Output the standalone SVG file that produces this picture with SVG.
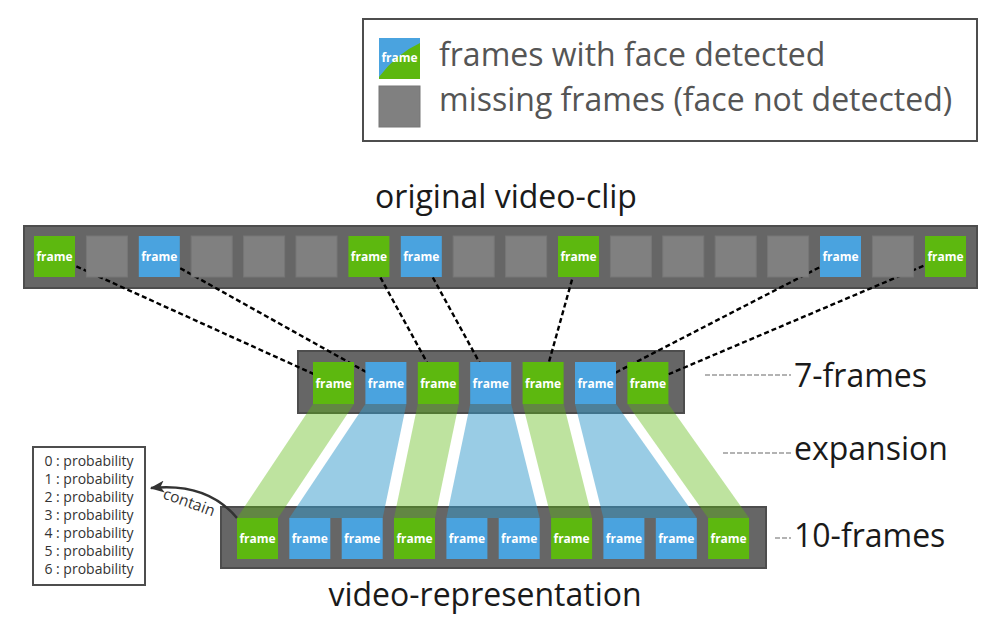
<svg xmlns="http://www.w3.org/2000/svg" width="999" height="624" viewBox="0 0 999 624">
<defs>
<style>
.strip{fill:#666666;stroke:#4d4d4d;stroke-width:2}
.g{fill:#5db80f}
.b{fill:#4aa3df}
.m{fill:#808080;stroke:#777;stroke-width:1}
.ft{font-family:"Open Sans","DejaVu Sans",sans-serif;font-weight:bold;font-size:12px;fill:#ffffff;text-anchor:middle}
.lbl{font-family:"Open Sans","DejaVu Sans",sans-serif;font-size:32px;fill:#1a1a1a}
.leg{font-family:"Open Sans","DejaVu Sans",sans-serif;font-size:32px;fill:#555555}
.prob{font-family:"Open Sans","DejaVu Sans",sans-serif;font-size:14px;fill:#333333;text-anchor:middle}
.dl{stroke:#000;stroke-width:2.4;stroke-dasharray:5 3;fill:none}
.gl{stroke:#b3b3b3;stroke-width:2;stroke-dasharray:5 2;fill:none}
.bg{fill:#5db80f;opacity:0.4}
.bb{fill:#3399cc;opacity:0.5}
</style>
<marker id="ah2" viewBox="0 0 12 10" refX="11" refY="5" markerWidth="15" markerHeight="12" orient="auto" markerUnits="userSpaceOnUse">
<path d="M0,0 L12,5 L0,10 L3,5 Z" fill="#333"/>
</marker>
</defs>
<rect width="999" height="624" fill="#ffffff"/>

<g id="legend">
<rect x="363" y="19" width="614" height="122" fill="#fff" stroke="#4d4d4d" stroke-width="2"/>
<rect x="379" y="38" width="41" height="41" class="g"/>
<path d="M379,38 H420 V43 Q396,54 379,77 Z" class="b"/>
<text x="399.5" y="62" class="ft">frame</text>
<rect x="379" y="86" width="41" height="41" class="m"/>
<text x="439" y="66" class="leg">frames with face detected</text>
<text x="439" y="111" class="leg">missing frames (face not detected)</text>
</g>

<g id="labels">
<text x="506" y="208" class="lbl" text-anchor="middle">original video-clip</text>
<text x="794" y="387" class="lbl">7-frames</text>
<text x="794" y="460" class="lbl">expansion</text>
<text x="794" y="547" class="lbl">10-frames</text>
<text x="485" y="606" class="lbl" text-anchor="middle">video-representation</text>
</g>

<g id="strips">
<rect id="original-clip" x="24" y="226" width="953" height="62" class="strip"/>
<rect id="seven-frames" x="298" y="351" width="386" height="62" class="strip"/>
<rect id="ten-frames" x="221" y="507" width="545" height="61" class="strip"/>
</g>

<g id="connectors">
<line x1="54.5" y1="256.5" x2="333.5" y2="383" class="dl"/>
<line x1="159.3" y1="256.5" x2="385.9" y2="383" class="dl"/>
<line x1="368.9" y1="256.5" x2="438.3" y2="383" class="dl"/>
<line x1="421.3" y1="256.5" x2="490.7" y2="383" class="dl"/>
<line x1="578.5" y1="256.5" x2="543.1" y2="383" class="dl"/>
<line x1="840.5" y1="256.5" x2="595.5" y2="383" class="dl"/>
<line x1="945.5" y1="256.5" x2="647.9" y2="383" class="dl"/>
<line x1="705" y1="375" x2="791" y2="375" class="gl"/>
<line x1="723" y1="453" x2="791" y2="453" class="gl"/>
<line x1="775" y1="538" x2="791" y2="538" class="gl"/>
<path d="M237,518 Q207,482 151,488" fill="none" stroke="#333" stroke-width="2.5" marker-end="url(#ah2)"/>
<text x="0" y="0" transform="translate(162,498) rotate(20)" font-family="'Open Sans','DejaVu Sans',sans-serif" font-size="15.5" fill="#333">contain</text>
</g>

<g id="expansion-bands">
<polygon points="313,404 354,404 278,518 237,518" class="bg"/>
<polygon points="365.4,404 406.4,404 382.7,518 289.3,518" class="bb"/>
<polygon points="417.8,404 458.8,404 435,518 394,518" class="bg"/>
<polygon points="470.2,404 511.2,404 539.7,518 446.4,518" class="bb"/>
<polygon points="522.6,404 563.6,404 592.1,518 551.1,518" class="bg"/>
<polygon points="575,404 616,404 696.8,518 603.4,518" class="bb"/>
<polygon points="627.4,404 668.4,404 749.1,518 708.1,518" class="bg"/>
</g>

<g id="top-frames">
<rect x="34" y="236" width="41" height="41" class="g"/><text x="54.5" y="261" class="ft">frame</text>
<rect x="86.4" y="236" width="41" height="41" class="m"/>
<rect x="138.8" y="236" width="41" height="41" class="b"/><text x="159.3" y="261" class="ft">frame</text>
<rect x="191.2" y="236" width="41" height="41" class="m"/>
<rect x="243.6" y="236" width="41" height="41" class="m"/>
<rect x="296" y="236" width="41" height="41" class="m"/>
<rect x="348.4" y="236" width="41" height="41" class="g"/><text x="368.9" y="261" class="ft">frame</text>
<rect x="400.8" y="236" width="41" height="41" class="b"/><text x="421.3" y="261" class="ft">frame</text>
<rect x="453.2" y="236" width="41" height="41" class="m"/>
<rect x="505.6" y="236" width="41" height="41" class="m"/>
<rect x="558" y="236" width="41" height="41" class="g"/><text x="578.5" y="261" class="ft">frame</text>
<rect x="610.4" y="236" width="41" height="41" class="m"/>
<rect x="662.8" y="236" width="41" height="41" class="m"/>
<rect x="715.2" y="236" width="41" height="41" class="m"/>
<rect x="767.6" y="236" width="41" height="41" class="m"/>
<rect x="820" y="236" width="41" height="41" class="b"/><text x="840.5" y="261" class="ft">frame</text>
<rect x="872.4" y="236" width="41" height="41" class="m"/>
<rect x="925" y="236" width="41" height="41" class="g"/><text x="945.5" y="261" class="ft">frame</text>
</g>

<g id="middle-frames">
<rect x="313" y="362" width="41" height="42" class="g"/><text x="333.5" y="387.5" class="ft">frame</text>
<rect x="365.4" y="362" width="41" height="42" class="b"/><text x="385.9" y="387.5" class="ft">frame</text>
<rect x="417.8" y="362" width="41" height="42" class="g"/><text x="438.3" y="387.5" class="ft">frame</text>
<rect x="470.2" y="362" width="41" height="42" class="b"/><text x="490.7" y="387.5" class="ft">frame</text>
<rect x="522.6" y="362" width="41" height="42" class="g"/><text x="543.1" y="387.5" class="ft">frame</text>
<rect x="575" y="362" width="41" height="42" class="b"/><text x="595.5" y="387.5" class="ft">frame</text>
<rect x="627.4" y="362" width="41" height="42" class="g"/><text x="647.9" y="387.5" class="ft">frame</text>
</g>

<g id="bottom-frames">
<rect x="237" y="518" width="41" height="41" class="g"/><text x="257.5" y="543" class="ft">frame</text>
<rect x="289.3" y="518" width="41" height="41" class="b"/><text x="309.8" y="543" class="ft">frame</text>
<rect x="341.7" y="518" width="41" height="41" class="b"/><text x="362.2" y="543" class="ft">frame</text>
<rect x="394" y="518" width="41" height="41" class="g"/><text x="414.5" y="543" class="ft">frame</text>
<rect x="446.4" y="518" width="41" height="41" class="b"/><text x="466.9" y="543" class="ft">frame</text>
<rect x="498.7" y="518" width="41" height="41" class="b"/><text x="519.2" y="543" class="ft">frame</text>
<rect x="551.1" y="518" width="41" height="41" class="g"/><text x="571.6" y="543" class="ft">frame</text>
<rect x="603.4" y="518" width="41" height="41" class="b"/><text x="623.9" y="543" class="ft">frame</text>
<rect x="655.8" y="518" width="41" height="41" class="b"/><text x="676.3" y="543" class="ft">frame</text>
<rect x="708.1" y="518" width="41" height="41" class="g"/><text x="728.6" y="543" class="ft">frame</text>
</g>

<g id="probabilities">
<rect x="33" y="447" width="112" height="138" fill="#fff" stroke="#4d4d4d" stroke-width="2"/>
<text x="89" y="466" class="prob">0 : probability</text>
<text x="89" y="484" class="prob">1 : probability</text>
<text x="89" y="502" class="prob">2 : probability</text>
<text x="89" y="520" class="prob">3 : probability</text>
<text x="89" y="538" class="prob">4 : probability</text>
<text x="89" y="556" class="prob">5 : probability</text>
<text x="89" y="574" class="prob">6 : probability</text>
</g>
</svg>
